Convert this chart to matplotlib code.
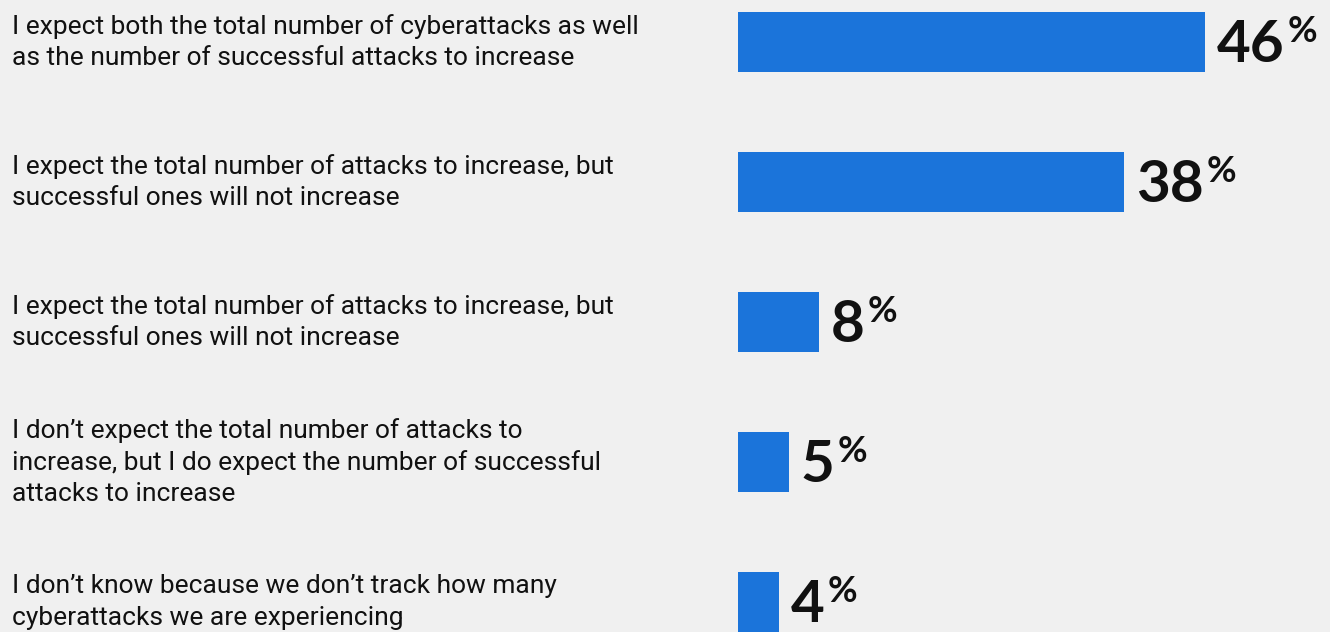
import matplotlib
matplotlib.use("Agg")
import matplotlib.pyplot as plt
from matplotlib.transforms import blended_transform_factory

categories = [
    "I expect both the total number of cyberattacks as well\nas the number of successful attacks to increase",
    "I expect the total number of attacks to increase, but\nsuccessful ones will not increase",
    "I expect the total number of attacks to increase, but\nsuccessful ones will not increase",
    "I don\u2019t expect the total number of attacks to\nincrease, but I do expect the number of successful\nattacks to increase",
    "I don\u2019t know because we don\u2019t track how many\ncyberattacks we are experiencing",
]
values = [46, 38, 8, 5, 4]

BG = "#f0f0f0"
BAR = "#1b74da"
INK = "#111111"

W, H, DPI = 1330, 632, 100
fig = plt.figure(figsize=(W / DPI, H / DPI), dpi=DPI, facecolor=BG)

# bars begin at x=738px; 46% spans about 467px
px_per_pct = 467 / 46
left_px = 738
ax = fig.add_axes([left_px / W, 0, 1 - left_px / W, 1])
ax.set_facecolor(BG)
ax.set_xlim(0, (W - left_px) / px_per_pct)
row_gap, first_center = 140, 42
ax.set_ylim((H - first_center) / row_gap, -first_center / row_gap)
ax.axis("off")

ypos = list(range(len(values)))
ax.barh(ypos, values, height=60 / row_gap, color=BAR, left=0)

tr = blended_transform_factory(fig.transFigure, ax.transData)
for y, lab in zip(ypos, categories):
    ax.text(12 / W, y, lab, transform=tr, ha="left", va="center",
            fontsize=19, family="Roboto", color=INK, linespacing=1.38)

for y, v in zip(ypos, values):
    num = ax.annotate(f"{v}", xy=(v, y), xytext=(12, -4), textcoords="offset pixels",
                      ha="left", va="center", fontsize=42, fontweight="bold",
                      family="Lato", color=INK)
    ax.annotate("%", xy=(1, 1), xycoords=num, xytext=(3, 4), textcoords="offset pixels",
                ha="left", va="top", fontsize=26, fontweight="bold",
                family="Lato", color=INK)

fig.savefig("out.png", dpi=DPI, facecolor=BG)
